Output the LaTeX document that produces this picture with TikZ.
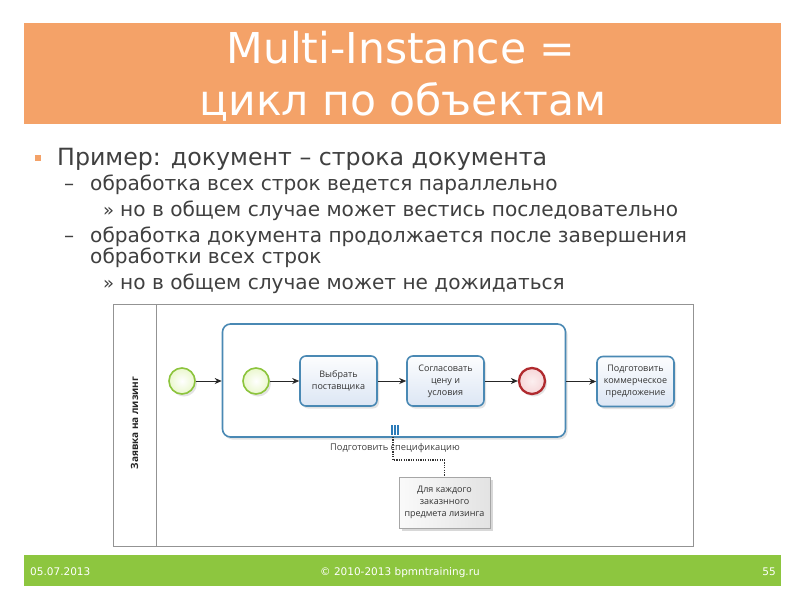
\documentclass[tikz,border=0pt]{standalone}
\usepackage{fontspec}
\setmainfont{DejaVu Sans}
\newfontfamily\titlefont{DejaVu Sans}
\newfontfamily\bodyfont{DejaVu Sans}
\newfontfamily\diagfont{Open Sans}
\usetikzlibrary{arrows.meta,shadows}
\definecolor{titleorange}{HTML}{F4A268}
\definecolor{footgreen}{HTML}{8DC63F}
\definecolor{bodygray}{HTML}{404040}
\definecolor{taskblue}{HTML}{4A89B4}
\definecolor{taskfill}{HTML}{DCE6F4}
\definecolor{startgreen}{HTML}{8CC43C}
\definecolor{startfill}{HTML}{EAF7CD}
\definecolor{endred}{HTML}{B02A2E}
\definecolor{endfill}{HTML}{F6D6D8}
\definecolor{miblue}{HTML}{2B7BB9}
\tikzset{
  lvlone/.style={anchor=base west, inner sep=0pt, text=bodygray, font=\bodyfont\fontsize{23.7}{28}\selectfont},
  lvltwo/.style={anchor=base west, inner sep=0pt, text=bodygray, font=\bodyfont\fontsize{20.1}{24}\selectfont},
  mark2/.style={anchor=base west, inner sep=0pt, text=bodygray, font=\bodyfont\fontsize{18}{22}\selectfont},
  foot/.style={inner sep=0pt, text=white, font=\bodyfont\fontsize{10.5}{12}\selectfont},
  dshadow/.style={drop shadow={opacity=0.22, shadow xshift=2pt, shadow yshift=-2.5pt}},
  evstart/.style={circle, draw=startgreen, line width=1.6pt, inner color=white, outer color=startfill, minimum size=26pt, inner sep=0pt, dshadow},
  evend/.style={circle, draw=endred, line width=2.3pt, inner color=white!60!endfill, outer color=endfill, minimum size=26pt, inner sep=0pt, dshadow},
  taskbox/.style={draw=taskblue, line width=1.6pt, rounded corners=6pt, minimum width=77pt, minimum height=50pt, top color=white!92!taskfill, bottom color=taskfill, align=center, text=black!80, inner sep=2pt, font=\diagfont\fontsize{9}{12}\selectfont, dshadow},
  subproc/.style={draw=taskblue, line width=1.6pt, rounded corners=8pt, minimum width=343pt, minimum height=113pt, fill=white, dshadow},
  flow/.style={draw=black!85, line width=0.8pt, -{Stealth[length=7pt,width=6pt]}},
  assoc/.style={draw=black!80, line width=1.4pt, dash pattern=on 1.2pt off 1.2pt},
  annot/.style={draw=gray!70, line width=0.8pt, left color=white!96!gray, right color=gray!22, minimum width=91pt, minimum height=51pt, align=center, text=black!80, inner sep=2pt, font=\diagfont\fontsize{9}{12}\selectfont, drop shadow={opacity=0.3, shadow xshift=3pt, shadow yshift=-3pt}},
  poolline/.style={draw=gray!85, line width=0.9pt}
}
\begin{document}
\begin{tikzpicture}[x=1pt,y=-1pt]
\useasboundingbox (0,0) rectangle (800,600);
\fill[white] (0,0) rectangle (800,600);
% title bar
\fill[titleorange] (24,23) rectangle (781,124);
\node[anchor=base, inner sep=0pt, text=white, font=\titlefont\fontsize{42.5}{50}\selectfont] (t1) at (401,63) {Multi-Instance =};
\node[anchor=base, inner sep=0pt, text=white, font=\titlefont\fontsize{42.5}{50}\selectfont] (t2) at (403,115) {цикл по объектам};
% bullets
\fill[titleorange] (35,155) rectangle (41,161);
\node[lvlone] (b1) at (57,165) {Пример: документ – строка документа};
\node[lvltwo] (d1) at (64,190) {–};
\node[lvltwo] (b2) at (90,190) {обработка всех строк ведется параллельно};
\node[mark2] (m1) at (103,216) {»};
\node[lvltwo] (b3) at (120,216) {но в общем случае может вестись последовательно};
\node[lvltwo] (d2) at (64,242) {–};
\node[lvltwo] (b4) at (90,242) {обработка документа продолжается после завершения};
\node[lvltwo] (b5) at (90,263) {обработки всех строк};
\node[mark2] (m2) at (103,289) {»};
\node[lvltwo] (b6) at (120,289) {но в общем случае может не дожидаться};
% pool
\node[poolline, minimum width=580pt, minimum height=242pt, inner sep=0pt] (pool) at (403,425) {};
\coordinate (lt) at (156,304);
\coordinate (lb) at (156,546);
\draw[poolline] (lt) -- (lb);
\node[rotate=90, inner sep=0pt, text=black!85, font=\diagfont\bfseries\fontsize{10}{12}\selectfont] (lane) at (134.5,423) {Заявка на лизинг};
% subprocess
\node[subproc] (sp) at (394,380.5) {};
\node[evstart] (s1) at (182,381) {};
\node[evstart] (s2) at (256,381) {};
\node[taskbox] (k1) at (338.5,381) {Выбрать\\поставщика};
\node[taskbox] (k2) at (445.5,381) {Согласовать\\цену и\\условия};
\node[evend] (e1) at (532,381) {};
\node[taskbox] (k3) at (635.5,381.5) {Подготовить\\коммерческое\\предложение};
\draw[flow] (s1) -- (sp.west |- s1);
\draw[flow] (s2) -- (k1);
\draw[flow] (k1) -- (k2);
\draw[flow] (k2) -- (e1);
\draw[flow] (sp.east |- k3) -- (k3);
% multi-instance marker
\node[inner sep=0pt, minimum width=8pt, minimum height=9pt] (mi) at (395,430) {};
\foreach \dx in {-3,0,3}
  \draw[miblue, line width=1.4pt] ([xshift=\dx pt]mi.north) -- ([xshift=\dx pt]mi.south);
\node[inner sep=0pt, text=black!75, font=\diagfont\fontsize{9.3}{11}\selectfont] (lbl) at (395,448) {Подготовить спецификацию};
% annotation
\node[annot] (an) at (444.5,502.5) {Для каждого\\заказнного\\предмета лизинга};
\coordinate (ast) at (393,437);
\draw[assoc] (ast) -- ++(0,23) -| (an.north);
% footer
\fill[footgreen] (24,555) rectangle (781,586);
\node[foot, anchor=base west] (f1) at (30,575) {05.07.2013};
\node[foot, anchor=base] (f2) at (400,575) {© 2010-2013 bpmntraining.ru};
\node[foot, anchor=base east] (f3) at (776,575) {55};
\end{tikzpicture}
\end{document}
